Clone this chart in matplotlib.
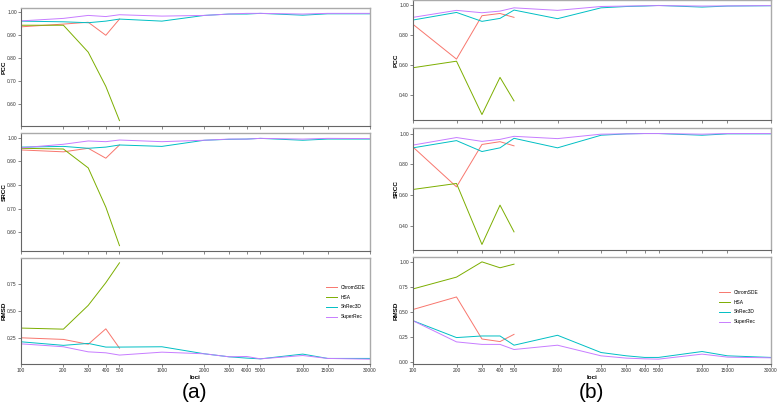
import matplotlib
matplotlib.use("Agg")
import matplotlib.pyplot as plt
from matplotlib.ticker import FixedLocator, FixedFormatter, NullLocator, FormatStrFormatter

plt.rcParams['font.family'] = ['Liberation Sans', 'DejaVu Sans']

loci = [100, 200, 300, 400, 500, 1000, 2000, 3000, 4000, 5000, 10000, 15000, 30000]
xtick_labels = ["100", "200", "300", "400", "500", "1000", "2000", "3000", "4000", "5000", "10000", "15000", "30000"]

methods = ["ChromSDE", "HSA", "ShRec3D", "SuperRec"]
colors = ["#F8766D", "#7CAE00", "#00BFC4", "#C77CFF"]

# ---- panel (a) ----
a_pcc_chromsde = [0.937, 0.949, 0.957, 0.900, 0.971]
a_pcc_hsa = [0.944, 0.944, 0.826, 0.676, 0.526]
a_pcc_shrec = [0.962, 0.959, 0.955, 0.962, 0.971, 0.962, 0.987, 0.993, 0.993, 0.996, 0.988, 0.994, 0.994]
a_pcc_superrec = [0.963, 0.974, 0.987, 0.982, 0.990, 0.984, 0.987, 0.993, 0.996, 0.996, 0.993, 0.996, 0.996]

a_srcc_chromsde = [0.948, 0.940, 0.955, 0.913, 0.969]
a_srcc_hsa = [0.955, 0.952, 0.872, 0.706, 0.543]
a_srcc_shrec = [0.960, 0.963, 0.955, 0.960, 0.969, 0.963, 0.989, 0.993, 0.994, 0.997, 0.989, 0.994, 0.994]
a_srcc_superrec = [0.957, 0.972, 0.986, 0.983, 0.990, 0.983, 0.989, 0.994, 0.994, 0.997, 0.994, 0.997, 0.996]

a_rmsd_chromsde = [0.250, 0.235, 0.190, 0.333, 0.154]
a_rmsd_hsa = [0.340, 0.330, 0.550, 0.760, 0.944]
a_rmsd_shrec = [0.213, 0.180, 0.198, 0.164, 0.164, 0.167, 0.102, 0.074, 0.062, 0.055, 0.099, 0.059, 0.059]
a_rmsd_superrec = [0.194, 0.167, 0.120, 0.111, 0.090, 0.117, 0.102, 0.074, 0.077, 0.055, 0.086, 0.059, 0.052]

# ---- panel (b) ----
b_pcc_chromsde = [0.873, 0.639, 0.931, 0.946, 0.920]
b_pcc_hsa = [0.581, 0.625, 0.266, 0.516, 0.358]
b_pcc_shrec = [0.902, 0.953, 0.893, 0.913, 0.969, 0.911, 0.984, 0.993, 0.996, 1.000, 0.989, 0.996, 0.998]
b_pcc_superrec = [0.920, 0.967, 0.951, 0.962, 0.984, 0.967, 0.993, 0.996, 0.998, 0.999, 0.996, 0.997, 0.999]

b_srcc_chromsde = [0.912, 0.653, 0.929, 0.947, 0.920]
b_srcc_hsa = [0.636, 0.675, 0.278, 0.534, 0.360]
b_srcc_shrec = [0.907, 0.954, 0.883, 0.907, 0.969, 0.907, 0.989, 0.998, 1.000, 1.000, 0.989, 0.998, 0.998]
b_srcc_superrec = [0.925, 0.974, 0.949, 0.962, 0.982, 0.967, 0.996, 0.998, 1.000, 1.000, 0.996, 1.000, 1.000]

b_rmsd_chromsde = [0.528, 0.653, 0.234, 0.208, 0.280]
b_rmsd_hsa = [0.733, 0.851, 1.003, 0.944, 0.980]
b_rmsd_shrec = [0.416, 0.248, 0.264, 0.264, 0.172, 0.271, 0.099, 0.066, 0.050, 0.050, 0.109, 0.066, 0.050]
b_rmsd_superrec = [0.416, 0.205, 0.180, 0.180, 0.129, 0.172, 0.066, 0.043, 0.036, 0.033, 0.083, 0.053, 0.046]

W, H = 778, 405
fig = plt.figure(figsize=(W / 100, H / 100), dpi=100)


def add_ax(x0, x1, y0, y1):
    return fig.add_axes([x0 / W, 1 - y1 / H, (x1 - x0) / W, (y1 - y0) / H])


def style(ax, ylabel, yticks, bottom, label_x):
    ax.set_xscale('log')
    ax.set_xlim(loci[0], loci[-1])
    ax.margins(x=0, y=0.05)
    ax.xaxis.set_major_locator(FixedLocator(loci))
    ax.xaxis.set_minor_locator(NullLocator())
    if bottom:
        ax.xaxis.set_major_formatter(FixedFormatter(xtick_labels))
        ax.set_xlabel("loci", fontsize=4.5, fontweight='bold', labelpad=1.0)
    else:
        ax.xaxis.set_major_formatter(FixedFormatter([""] * len(loci)))
    ax.yaxis.set_major_locator(FixedLocator(yticks))
    ax.yaxis.set_major_formatter(FormatStrFormatter('%.2f'))
    ax.tick_params(axis='both', labelsize=3.5, length=2, width=0.5, color='#555555',
                   pad=1, labelcolor='#333333')
    ax.set_ylabel(ylabel, fontsize=4.6, fontweight='bold')
    ax.yaxis.set_label_coords(label_x, 0.5)
    for s in ['left', 'bottom']:
        ax.spines[s].set_color('#666666')
        ax.spines[s].set_linewidth(0.8)
    for s in ['top', 'right']:
        ax.spines[s].set_color('#aaaaaa')
        ax.spines[s].set_linewidth(1.0)


def draw(ax, series):
    for name, col, vals in zip(methods, colors, series):
        xs = loci[:len(vals)]
        ax.plot(xs, vals, color=col, lw=0.7, label=name)


la = (7 - 21) / 349.0
lb = (398.5 - 413) / 358.0

# panel (a)
ax = add_ax(21, 370, 8, 126)
draw(ax, [a_pcc_chromsde, a_pcc_hsa, a_pcc_shrec, a_pcc_superrec])
style(ax, "PCC", [0.5, 0.6, 0.7, 0.8, 0.9, 1.0], False, la)

ax = add_ax(21, 370, 133, 251)
draw(ax, [a_srcc_chromsde, a_srcc_hsa, a_srcc_shrec, a_srcc_superrec])
style(ax, "SRCC", [0.6, 0.7, 0.8, 0.9, 1.0], False, la)

ax = add_ax(21, 370, 258, 364)
draw(ax, [a_rmsd_chromsde, a_rmsd_hsa, a_rmsd_shrec, a_rmsd_superrec])
style(ax, "RMSD", [0.25, 0.5, 0.75], True, la)
ax.legend(loc='center left', bbox_to_anchor=(322 / W, 1 - 302 / H), bbox_transform=fig.transFigure,
          frameon=False, fontsize=3.5, handlelength=2.2, labelspacing=1.0, handletextpad=0.8)

# panel (b)
ax = add_ax(413, 771, 0, 120)
draw(ax, [b_pcc_chromsde, b_pcc_hsa, b_pcc_shrec, b_pcc_superrec])
style(ax, "PCC", [0.4, 0.6, 0.8, 1.0], False, lb)

ax = add_ax(413, 771, 128, 250)
draw(ax, [b_srcc_chromsde, b_srcc_hsa, b_srcc_shrec, b_srcc_superrec])
style(ax, "SRCC", [0.4, 0.6, 0.8, 1.0], False, lb)

ax = add_ax(413, 771, 257, 364)
draw(ax, [b_rmsd_chromsde, b_rmsd_hsa, b_rmsd_shrec, b_rmsd_superrec])
style(ax, "RMSD", [0.0, 0.25, 0.5, 0.75, 1.0], True, lb)
ax.legend(loc='center left', bbox_to_anchor=(715 / W, 1 - 307 / H), bbox_transform=fig.transFigure,
          frameon=False, fontsize=3.5, handlelength=2.2, labelspacing=1.0, handletextpad=0.8)

fig.text(195 / W, 1 - 392 / H, "(a)", fontsize=15, ha='center', va='center')
fig.text(591 / W, 1 - 392 / H, "(b)", fontsize=15, ha='center', va='center')

fig.savefig("out.png", dpi=100)
